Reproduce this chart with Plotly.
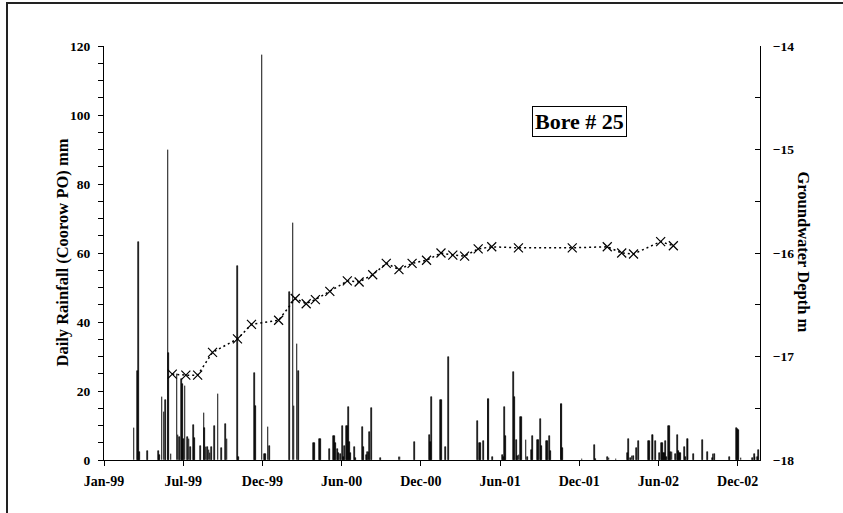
import plotly.graph_objects as go

# ---------------- data ----------------
rain_dates = [
    "1999-03-10", "1999-03-18", "1999-03-21", "1999-03-23", "1999-04-10", "1999-05-05",
    "1999-05-08", "1999-05-13", "1999-05-18", "1999-05-22", "1999-05-27", "1999-05-28",
    "1999-06-03", "1999-06-17", "1999-06-19", "1999-06-22", "1999-06-27", "1999-06-29",
    "1999-07-02", "1999-07-05", "1999-07-11", "1999-07-14", "1999-07-18", "1999-07-24",
    "1999-07-27", "1999-08-09", "1999-08-17", "1999-08-19", "1999-08-22", "1999-08-25",
    "1999-08-29", "1999-08-31", "1999-09-04", "1999-09-10", "1999-09-19", "1999-09-26",
    "1999-10-06", "1999-10-09", "1999-11-02", "1999-11-04", "1999-12-11", "1999-12-13",
    "1999-12-28", "2000-01-03", "2000-01-05", "2000-01-11", "2000-01-14", "2000-02-29",
    "2000-03-08", "2000-03-10", "2000-03-17", "2000-03-20", "2000-04-24", "2000-04-26",
    "2000-05-07", "2000-05-10", "2000-05-30", "2000-06-08", "2000-06-11", "2000-06-13",
    "2000-06-17", "2000-06-20", "2000-06-25", "2000-06-29", "2000-07-01", "2000-07-04",
    "2000-07-08", "2000-07-10", "2000-07-13", "2000-07-15", "2000-07-17", "2000-07-26",
    "2000-07-29", "2000-08-14", "2000-08-16", "2000-08-23", "2000-08-25", "2000-08-28",
    "2000-08-30", "2000-09-03", "2000-09-24", "2000-11-05", "2000-11-07", "2000-12-10",
    "2001-01-14", "2001-01-16", "2001-01-18", "2001-02-08", "2001-02-10", "2001-02-19",
    "2001-02-26", "2001-05-03", "2001-05-08", "2001-05-10", "2001-05-17", "2001-05-27",
    "2001-05-29", "2001-06-07", "2001-06-29", "2001-07-02", "2001-07-04", "2001-07-06",
    "2001-07-25", "2001-07-27", "2001-07-31", "2001-08-03", "2001-08-06", "2001-08-10",
    "2001-08-12", "2001-08-22", "2001-08-26", "2001-09-04", "2001-09-06", "2001-09-17",
    "2001-09-20", "2001-09-24", "2001-09-27", "2001-10-08", "2001-10-10", "2001-10-15",
    "2001-10-17", "2001-11-10", "2001-11-12", "2001-11-14", "2001-12-28", "2002-01-26",
    "2002-01-28", "2002-02-25", "2002-02-28", "2002-03-16", "2002-04-11", "2002-04-13",
    "2002-04-18", "2002-04-22", "2002-04-25", "2002-05-02", "2002-05-06", "2002-05-29",
    "2002-05-31", "2002-06-07", "2002-06-09", "2002-06-14", "2002-06-23", "2002-06-28",
    "2002-06-30", "2002-07-02", "2002-07-05", "2002-07-07", "2002-07-09", "2002-07-14",
    "2002-07-16", "2002-07-19", "2002-07-22", "2002-07-30", "2002-08-03", "2002-08-06",
    "2002-08-08", "2002-08-10", "2002-08-19", "2002-08-22", "2002-08-26", "2002-08-28",
    "2002-09-09", "2002-09-29", "2002-10-11", "2002-10-22", "2002-10-24", "2002-10-27",
    "2002-11-30", "2002-12-16", "2002-12-18", "2002-12-21", "2002-12-27", "2003-01-22",
    "2003-01-26", "2003-01-28", "2003-02-02", "2003-02-04",
]
rain_mm = [
    9.2, 25.8, 63.2, 2.3, 2.6, 2.6,
    1.5, 18.2, 14.0, 17.5, 90.0, 31.0,
    1.7, 25.0, 7.2, 6.8, 23.5, 22.0,
    6.0, 21.4, 6.8, 6.2, 3.7, 10.1,
    6.3, 4.0, 13.7, 9.2, 3.9, 3.9,
    2.9, 2.0, 3.9, 9.8, 19.0, 3.4,
    10.3, 6.0, 56.3, 0.8, 25.1, 15.7,
    117.3, 1.7, 1.7, 9.5, 4.0, 48.8,
    68.6, 15.7, 33.5, 25.8, 4.8, 4.8,
    6.1, 6.1, 3.2, 7.0, 7.0, 5.0,
    3.2, 2.0, 1.6, 9.9, 0.8, 4.0,
    10.0, 10.0, 15.3, 5.3, 2.1, 3.7,
    0.5, 9.5, 3.7, 1.5, 2.2, 2.2,
    8.0, 15.0, 0.6, 1.0, 1.0, 5.1,
    7.3, 5.1, 18.2, 17.4, 17.4, 3.7,
    30.0, 11.3, 4.8, 4.8, 5.5, 17.6,
    17.6, 0.8, 1.4, 1.0, 15.3, 7.1,
    25.4, 18.2, 5.8, 1.2, 1.4, 12.4,
    12.4, 5.8, 0.8, 2.9, 7.1, 5.8,
    5.8, 11.8, 4.0, 5.4, 5.4, 7.0,
    2.6, 16.2, 16.2, 3.4, 0.3, 4.3,
    0.3, 0.8, 0.5, 0.3, 2.0, 6.1,
    0.6, 1.2, 1.2, 3.5, 5.5, 5.4,
    5.4, 7.2, 7.2, 5.4, 2.1, 4.9,
    4.9, 2.0, 2.0, 5.6, 0.8, 9.9,
    9.9, 2.2, 2.2, 1.6, 7.2, 2.6,
    2.0, 2.0, 3.8, 0.8, 6.1, 6.1,
    1.6, 5.8, 2.2, 0.5, 1.6, 1.6,
    0.9, 9.3, 8.9, 8.7, 0.6, 0.5,
    1.6, 1.0, 1.0, 2.9,
]

gw_dates = [
    "1999-06-06", "1999-07-07", "1999-08-03", "1999-09-06", "1999-11-02", "1999-12-04",
    "2000-02-04", "2000-03-13", "2000-04-07", "2000-04-28", "2000-05-31", "2000-07-10",
    "2000-08-06", "2000-09-06", "2000-10-07", "2000-11-05", "2000-12-05", "2001-01-07",
    "2001-02-09", "2001-03-08", "2001-04-04", "2001-05-05", "2001-06-05", "2001-08-05",
    "2001-12-06", "2002-02-24", "2002-03-29", "2002-04-25", "2002-06-26", "2002-07-25",
]
gw_depth = [
    -17.17, -17.18, -17.18, -16.96, -16.83, -16.69,
    -16.65, -16.44, -16.49, -16.45, -16.37, -16.27,
    -16.28, -16.21, -16.10, -16.16, -16.10, -16.07,
    -16.00, -16.02, -16.03, -15.96, -15.94, -15.95,
    -15.95, -15.94, -16.00, -16.01, -15.89, -15.93,
]

x_tick_dates = ["1999-01-01", "1999-07-01", "1999-12-29", "2000-06-27", "2000-12-25",
                "2001-06-24", "2001-12-22", "2002-06-21", "2002-12-19"]
x_tick_labels = ["Jan-99", "Jul-99", "Dec-99", "Jun-00", "Dec-00",
                 "Jun-01", "Dec-01", "Jun-02", "Dec-02"]

# ---------------- figure ----------------
FONT = "Liberation Serif, Times New Roman, serif"
W, H = 843, 513
ML, MR, MT, MB = 104, 83, 46, 53
PW, PH = W - ML - MR, H - MT - MB

def px_x(px):
    return (px - ML) / PW

def px_y(py):
    return (H - MB - py) / PH

fig = go.Figure()

fig.add_trace(go.Bar(
    x=rain_dates, y=rain_mm,
    width=86400000 * 1.2,
    marker=dict(color="black", line=dict(color="black", width=0.6)),
    showlegend=False,
))

fig.add_trace(go.Scatter(
    x=gw_dates, y=gw_depth, yaxis="y2",
    mode="lines+markers",
    line=dict(color="black", width=1.5, dash="2px,3px"),
    marker=dict(symbol="x-thin", size=9, line=dict(color="black", width=1.2)),
    showlegend=False,
))

axis_common = dict(
    showline=True, linecolor="black", linewidth=1,
    ticklen=5, tickcolor="black", tickwidth=1,
    showgrid=False, zeroline=False,
)

fig.update_layout(
    width=W, height=H,
    margin=dict(l=ML, r=MR, t=MT, b=MB, pad=0),
    paper_bgcolor="white", plot_bgcolor="white",
    font=dict(family=FONT, color="black"),
    bargap=0,
    xaxis=dict(
        type="date",
        range=["1999-01-01", "2003-02-08"],
        tickmode="array", tickvals=x_tick_dates, ticktext=x_tick_labels,
        ticks="outside", ticklabelstandoff=3,
        tickfont=dict(family=FONT, size=14, color="black", weight="bold"),
        **axis_common,
    ),
    yaxis=dict(
        range=[0, 120], tickmode="linear", tick0=0, dtick=20,
        ticks="outside", ticklabelstandoff=5,
        minor=dict(dtick=5, ticks="outside", ticklen=5, tickcolor="black"),
        tickfont=dict(family=FONT, size=13.5, color="black", weight="bold"),
        **axis_common,
    ),
    yaxis2=dict(
        range=[-18, -14], tickmode="linear", tick0=-18, dtick=1,
        overlaying="y", side="right",
        ticks="inside", ticklabelstandoff=9,
        minor=dict(dtick=0.5, ticks="inside", ticklen=5, tickcolor="black"),
        tickfont=dict(family=FONT, size=13.5, color="black", weight="bold"),
        **axis_common,
    ),
    annotations=[
        dict(text="<b>Daily Rainfall (Coorow PO) mm</b>", xref="paper", yref="paper",
             x=px_x(62), y=px_y(252.5), xanchor="center", yanchor="middle",
             textangle=-90, showarrow=False,
             font=dict(family=FONT, size=16.5, color="black")),
        dict(text="<b>Groundwater Depth m</b>", xref="paper", yref="paper",
             x=px_x(803), y=px_y(252.5), xanchor="center", yanchor="middle",
             textangle=90, showarrow=False,
             font=dict(family=FONT, size=16.5, color="black")),
        dict(text="<b>Bore # 25</b>", xref="paper", yref="paper",
             x=px_x(579.7), y=px_y(121.3), xanchor="center", yanchor="middle",
             showarrow=False,
             bordercolor="black", borderwidth=1, borderpad=2, bgcolor="white",
             font=dict(family=FONT, size=22, color="black")),
    ],
    shapes=[
        dict(type="rect", xref="paper", yref="paper",
             x0=px_x(7), x1=px_x(900), y0=px_y(560), y1=px_y(3),
             line=dict(color="#222", width=2), fillcolor="rgba(0,0,0,0)", layer="below"),
    ],
)

fig.write_html("out.html")
